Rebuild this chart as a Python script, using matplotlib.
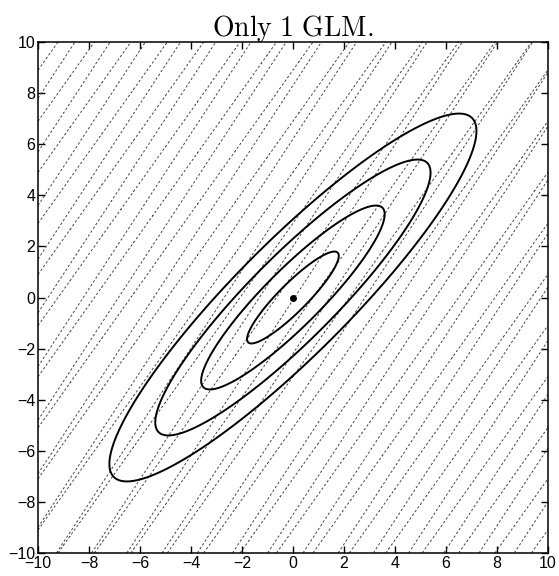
import numpy as np
import matplotlib
matplotlib.use("Agg")
import matplotlib.pyplot as plt

plt.rcParams['mathtext.fontset'] = 'cm'
plt.rcParams['font.family'] = ['Liberation Sans', 'DejaVu Sans']

# Gaussian (single GLM) posterior
mean = [0.0, 0.0]
sigma = 1.8
rho = 0.905
contour_sigmas = [1, 2, 3, 4]

# background dashed line families (slope, level spacing, offset)
bg_slopes = [1.52, 1.40]
bg_spacing = [2.1, 2.0]
bg_offsets = [0.0, 0.9]

xticks = [-10, -8, -6, -4, -2, 0, 2, 4, 6, 8, 10]
yticks = [-10, -8, -6, -4, -2, 0, 2, 4, 6, 8, 10]

fig = plt.figure(figsize=(5.59, 5.76), dpi=100)
ax = fig.add_axes([0.068, 0.04, 0.912, 0.887])

x = np.linspace(-10, 10, 401)
X, Y = np.meshgrid(x, x)

for s, sp, off in zip(bg_slopes, bg_spacing, bg_offsets):
    F = Y - s * X
    levels = np.arange(-40 + off, 40, sp)
    cs = ax.contour(X, Y, F, levels=levels, colors='#444444', linewidths=0.7)
    cs.set_linestyle((0, (2.5, 2.2)))

cov = sigma**2 * np.array([[1, rho], [rho, 1]])
inv = np.linalg.inv(cov)
D = inv[0, 0] * (X - mean[0])**2 + 2 * inv[0, 1] * (X - mean[0]) * (Y - mean[1]) + inv[1, 1] * (Y - mean[1])**2
ax.contour(X, Y, np.sqrt(D), levels=contour_sigmas, colors='black', linewidths=1.4)
ax.plot([mean[0]], [mean[1]], 'o', color='black', markersize=4)

ax.set_xlim(-10, 10)
ax.set_ylim(-10, 10)
ax.set_xticks(xticks)
ax.set_yticks(yticks)
ax.set_xticklabels([str(t).replace('-', '\u2212') for t in xticks])
ax.set_yticklabels([str(t).replace('-', '\u2212') for t in yticks])
ax.tick_params(direction='in', length=5, width=1, top=True, right=True, labelsize=11.5, pad=2)
for sp in ax.spines.values():
    sp.set_linewidth(1.1)
ax.set_title(r'$\mathrm{Only\ 1\ GLM.}$', fontsize=20, pad=4)

fig.savefig('out.png', dpi=100)
